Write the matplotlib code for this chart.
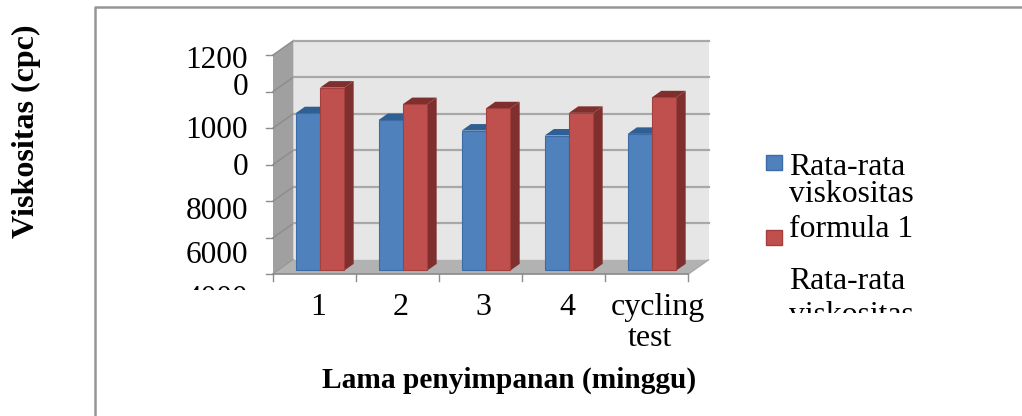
import matplotlib
matplotlib.use('Agg')
import matplotlib.pyplot as plt
from matplotlib.patches import Polygon
from matplotlib.transforms import Bbox

categories = ['1', '2', '3', '4', 'cycling']
formula_1 = [12600, 12230, 11650, 11380, 11470]
formula_2 = [14000, 13100, 12870, 12620, 13470]
y_ticks = [4000, 6000, 8000, 10000, 12000, 14000, 16000]

W, H = 1022, 416
plt.rcParams['font.family'] = ['Liberation Serif', 'DejaVu Serif']

fig = plt.figure(figsize=(W / 100, H / 100), dpi=100)


def fx(px):
    return px / W


def fy(py):
    return 1 - py / H


def label(px, py, s, fs, ha='left', **kw):
    return fig.text(fx(px), fy(py), s, ha=ha, va='baseline', fontsize=fs, color='black', **kw)


def clipped(t, top, bottom):
    # word wraps the labels and cuts them off at the box edge
    t.set_clip_box(Bbox([[0, H - bottom], [W, H - top]]))
    t.set_clip_on(True)


# outer frame of the pasted chart
fig.add_artist(plt.Line2D([fx(95), fx(95), fx(W)], [fy(H), fy(7), fy(7)], color='#969696', lw=1.8))

# front plane of the 3d box
ax = fig.add_axes([fx(273), fy(274.3), fx(688 - 273), (274.3 - 55) / H])
ax.set_xlim(-0.5, 4.5)
ax.set_ylim(4000, 16000)
ax.patch.set_visible(False)
for s in ax.spines.values():
    s.set_visible(False)

ddx = 20.5 / 83
ddy = 14.5 / 36.6 * 2000


def depth(x, y, d):
    return (x + ddx * d, y + ddy * d)


def wall(pts, color, z=1):
    ax.add_patch(Polygon(pts, closed=True, fc=color, ec='none', zorder=z, clip_on=False))


x0, x1 = -0.5, 4.5
y0, y1 = y_ticks[0], y_ticks[-1]
wall([depth(x0, y0, 1), depth(x1, y0, 1), depth(x1, y1, 1), depth(x0, y1, 1)], '#e6e6e6')
wall([depth(x0, y0, 0), depth(x0, y0, 1), depth(x0, y1, 1), depth(x0, y1, 0)], '#a0a0a0')
wall([depth(x0, y0, 0), depth(x1, y0, 0), depth(x1, y0, 1), depth(x0, y0, 1)], '#b2b2b2', z=2)

for v in y_ticks:
    a, b, c = depth(x0, v, 0), depth(x0, v, 1), depth(x1, v, 1)
    ax.plot([a[0], b[0]], [a[1], b[1]], color='#8c8c8c', lw=1, zorder=1.5, clip_on=False)
    if v > y0:
        ax.plot([b[0], c[0]], [b[1], c[1]], color='#a8a8a8', lw=1.6, zorder=1.5, clip_on=False)

# floor outline
a, b = depth(x1, y0, 0), depth(x1, y0, 1)
ax.plot([a[0], b[0]], [a[1], b[1]], color='#a8a8a8', lw=1, zorder=2, clip_on=False)
ax.plot([x0, x1], [y0, y0], color='#8c8c8c', lw=1.2, zorder=2.5, clip_on=False)

# ticks
for v in y_ticks:
    ax.plot([x0, x0 - 0.08], [v, v], color='#8c8c8c', lw=1, clip_on=False)
for i in range(len(categories) + 1):
    ax.plot([x0 + i, x0 + i], [y0, y0 - 350], color='#8c8c8c', lw=1, clip_on=False)

# bars
bw = 24.4 / 83
d_front, d_back = 0.27, 0.72
series = [(formula_1, '#4f81bd', '#2f5f93', '#3c6ca5', -bw / 2),
          (formula_2, '#c0504d', '#7f2f2d', '#a33f3c', bw / 2)]
for vals, col, dark, edge, off in series:
    for i, v in enumerate(vals):
        xl, xr = i + off - bw / 2, i + off + bw / 2
        wall([depth(xr, y0, d_front), depth(xr, y0, d_back), depth(xr, v, d_back), depth(xr, v, d_front)], dark, z=3)
        wall([depth(xl, v, d_front), depth(xr, v, d_front), depth(xr, v, d_back), depth(xl, v, d_back)], dark, z=3)
        fl = depth(xl, y0, d_front)
        top = depth(xl, v, d_front)
        ax.bar(fl[0], top[1] - fl[1], width=bw, bottom=fl[1], align='edge', color=col,
               edgecolor=edge, linewidth=0.8, zorder=4, clip_on=False)

ax.set_xticks([])
ax.set_yticks([])

# tick labels, wrapped the way they show in the source
tick_fs = 22.5
for s, py in [('1200', 68), ('0', 95), ('1000', 138), ('0', 175), ('8000', 219), ('6000', 263)]:
    label(248, py, s, tick_fs, ha='right')
clipped(label(248, 307, '4000', tick_fs, ha='right'), 270, 290)

for c, px in zip(categories, [318, 401, 483, 567, 658]):
    label(px, 315, c, 23, ha='center')
label(650, 346, 'test', 23, ha='center')

# legend, cut off at the bottom
leg_fs = 22.8
for s, py in [('Rata-rata', 175), ('viskositas', 202), ('formula 1', 237), ('Rata-rata', 289)]:
    label(789, py, s, leg_fs)
clipped(label(789, 323, 'viskositas', leg_fs), 295, 313)

for py, col, edge in [(163, '#4f81bd', '#3c6ca5'), (237, '#c0504d', '#a33f3c')]:
    fig.add_artist(plt.Rectangle((fx(766), fy(py + 7.5)), 16 / W, 15 / H, fc=col, ec=edge, lw=1,
                                 transform=fig.transFigure))

# axis titles
label(509.5, 388, 'Lama penyimpanan (minggu)', 21.2, ha='center', fontweight='bold')
fig.text(fx(26), fy(131), 'Viskositas (cpc)', ha='center', va='center', rotation=90,
         fontsize=23, fontweight='bold', color='black')

fig.savefig('out.png', dpi=100)
